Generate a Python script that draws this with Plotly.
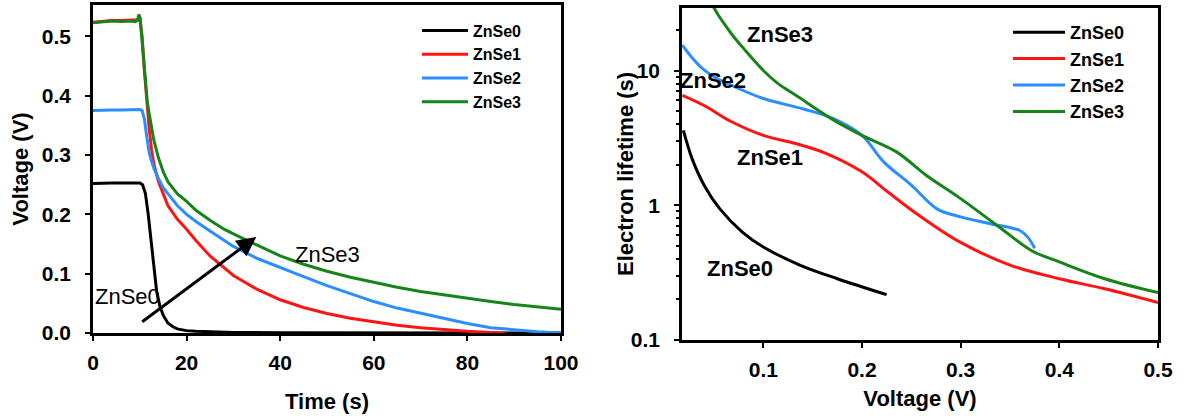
import math
import plotly.graph_objects as go

# ---------------- Left panel: voltage decay ----------------
t0 = [0, 2, 4, 6, 8, 10, 10.6, 11.2, 11.8, 12.4, 13, 13.6, 14.3, 15, 16, 17, 18, 20, 22, 25, 30, 40, 50, 60, 80, 100]
v0 = [0.252, 0.253, 0.253, 0.253, 0.253, 0.253, 0.25, 0.235, 0.2, 0.155, 0.105, 0.07, 0.045, 0.03, 0.017, 0.011,
      0.007, 0.004, 0.003, 0.002, 0.001, 0.0005, 0.0003, 0.0002, 0.0001, 0.0]

t1 = [0, 2, 4, 6, 8, 9.5, 10, 10.5, 11, 11.5, 12, 12.5, 13, 14, 15, 16, 18, 20, 22, 25, 30, 35, 40, 45, 50, 55,
      60, 65, 70, 75, 80, 85, 88]
v1 = [0.524, 0.526, 0.527, 0.527, 0.527, 0.528, 0.53, 0.5, 0.44, 0.385, 0.345, 0.31, 0.285, 0.255, 0.235, 0.215,
      0.192, 0.175, 0.156, 0.13, 0.097, 0.074, 0.056, 0.043, 0.033, 0.025, 0.019, 0.013, 0.009, 0.0055, 0.003,
      0.001, 0.0]

t2 = [0, 2, 4, 6, 8, 10, 10.5, 11, 11.5, 12, 12.5, 13, 14, 15, 16, 18, 20, 22, 25, 30, 35, 40, 45, 50, 55, 60,
      65, 70, 75, 80, 85, 90, 95, 100]
v2 = [0.375, 0.376, 0.376, 0.376, 0.376, 0.377, 0.375, 0.36, 0.33, 0.305, 0.29, 0.278, 0.26, 0.245, 0.235, 0.215,
      0.2, 0.188, 0.172, 0.146, 0.126, 0.11, 0.095, 0.08, 0.066, 0.053, 0.042, 0.033, 0.024, 0.016, 0.009, 0.005,
      0.002, 0.0]

t3 = [0, 2, 4, 6, 8, 9, 9.5, 9.8, 10.1, 10.4, 10.8, 11.2, 11.6, 12, 12.5, 13, 14, 15, 16, 18, 20, 22, 25, 28, 30,
      35, 40, 45, 50, 55, 60, 65, 70, 75, 80, 85, 90, 95, 100]
v3 = [0.523, 0.525, 0.526, 0.525, 0.526, 0.525, 0.527, 0.537, 0.53, 0.5, 0.46, 0.42, 0.39, 0.37, 0.345, 0.325,
      0.295, 0.272, 0.255, 0.235, 0.222, 0.207, 0.19, 0.175, 0.167, 0.148, 0.13, 0.116, 0.104, 0.094, 0.085,
      0.077, 0.07, 0.064, 0.058, 0.053, 0.048, 0.044, 0.04]

# ---------------- Right panel: electron lifetime ----------------
u0 = [0.019, 0.028, 0.04, 0.056, 0.079, 0.1, 0.137, 0.175, 0.225]
tau0 = [3.6, 2.2, 1.41, 0.94, 0.63, 0.49, 0.36, 0.285, 0.217]

u1 = [0.018, 0.04, 0.067, 0.1, 0.133, 0.164, 0.2, 0.226, 0.258, 0.3, 0.35, 0.4, 0.446, 0.5]
tau1 = [6.55, 5.5, 4.2, 3.3, 2.87, 2.42, 1.77, 1.26, 0.84, 0.53, 0.36, 0.285, 0.24, 0.19]

u2 = [0.018, 0.028, 0.04, 0.052, 0.067, 0.1, 0.14, 0.171, 0.2, 0.222, 0.25, 0.276, 0.3, 0.33, 0.36, 0.368, 0.375]
tau2 = [15.4, 12.4, 10.1, 8.8, 7.8, 6.2, 5.2, 4.4, 3.3, 2.1, 1.41, 0.94, 0.82, 0.73, 0.65, 0.58, 0.48]

u3 = [0.048, 0.055, 0.062, 0.07, 0.08, 0.09, 0.1, 0.115, 0.133, 0.171, 0.2, 0.235, 0.265, 0.3, 0.339, 0.372, 0.4,
      0.446, 0.5]
tau3 = [30.9, 25.4, 21.4, 17.8, 14.6, 12.0, 10.0, 8.0, 6.55, 4.3, 3.3, 2.49, 1.67, 1.12, 0.69, 0.46, 0.38, 0.285,
        0.225]

names = ["ZnSe0", "ZnSe1", "ZnSe2", "ZnSe3"]
colors = ["#000000", "#ff1414", "#2a8eff", "#17841a"]

x_ticks_left = [0, 20, 40, 60, 80, 100]
y_ticks_left = [0.0, 0.1, 0.2, 0.3, 0.4, 0.5]
x_ticks_right = [0.1, 0.2, 0.3, 0.4, 0.5]
y_ticks_right = [0.1, 1, 10]
y_minor_right = [0.2, 0.3, 0.4, 0.5, 0.6, 0.7, 0.8, 0.9, 2, 3, 4, 5, 6, 7, 8, 9, 20, 30]

# in-plot labels: (text, x, y)
left_labels = [("ZnSe0", 7.3, 0.061), ("ZnSe3", 50.2, 0.132)]
right_labels = [("ZnSe3", 0.117, 18.4), ("ZnSe2", 0.0493, 8.5), ("ZnSe1", 0.107, 2.27), ("ZnSe0", 0.0767, 0.34)]
arrow_tail = (10.2, 0.017)
arrow_head = (34.9, 0.162)

FONT = "Liberation Sans, Arial, sans-serif"

fig = go.Figure()
left_data = [(t0, v0), (t1, v1), (t2, v2), (t3, v3)]
right_data = [(u0, tau0), (u1, tau1), (u2, tau2), (u3, tau3)]

for (x, y), n, c in zip(left_data, names, colors):
    fig.add_trace(go.Scatter(x=x, y=y, mode="lines", name=n, line=dict(color=c, width=3),
                             xaxis="x", yaxis="y", legend="legend"))
for (x, y), n, c in zip(right_data, names, colors):
    fig.add_trace(go.Scatter(x=x, y=y, mode="lines", name=n, line=dict(color=c, width=3, shape="spline"),
                             xaxis="x2", yaxis="y2", legend="legend2"))

W, H = 1188, 419
axis_common = dict(showline=True, linecolor="black", linewidth=2.5, mirror=True, ticks="outside",
                   ticklen=5, tickwidth=2, tickcolor="black", showgrid=False, zeroline=False,
                   automargin=False,
                   tickfont=dict(family=FONT, size=21, color="black", weight=700),
                   title_font=dict(family=FONT, size=22, color="black", weight=700))

fig.update_layout(
    width=W, height=H, margin=dict(l=0, r=0, t=0, b=0),
    paper_bgcolor="white", plot_bgcolor="white",
    xaxis=dict(axis_common, domain=[93 / W, 561 / W], range=[0, 100], tickvals=x_ticks_left,
               title=dict(text="Time (s)", standoff=21), ticklabelstandoff=4),
    yaxis=dict(axis_common, domain=[(H - 333) / H, (H - 5) / H], range=[0, 0.553], tickvals=y_ticks_left,
               tickformat=".1f", title=dict(text="Voltage (V)", standoff=8), ticklabelstandoff=10),
    xaxis2=dict(axis_common, domain=[682 / W, 1158 / W], range=[0.0176, 0.5], tickvals=x_ticks_right,
                tickformat=".1f", anchor="y2",
                title=dict(text="Voltage (V)", standoff=11), ticklabelstandoff=4),
    yaxis2=dict(axis_common, domain=[(H - 340) / H, (H - 8) / H], type="log", range=[-1, 1.464],
                tickvals=y_ticks_right, ticktext=["0.1", "1", "10"], anchor="x2",
                minor=dict(tickvals=y_minor_right, ticks="outside", ticklen=3, tickcolor="black", tickwidth=1.5),
                ticklabelstandoff=10),
    legend=dict(x=417 / W, y=(H - 13.5) / H, xanchor="left", yanchor="top", bgcolor="rgba(0,0,0,0)",
                font=dict(family=FONT, size=16, color="black", weight=700), itemwidth=46,
                tracegroupgap=0),
    legend2=dict(x=1008 / W, y=(H - 14) / H, xanchor="left", yanchor="top", bgcolor="rgba(0,0,0,0)",
                 font=dict(family=FONT, size=18, color="black", weight=700), itemwidth=52,
                 tracegroupgap=0),
)

# right panel y-axis title, placed as rotated text beside the axis
fig.add_annotation(x=626 / W, y=(H - 174) / H, xref="paper", yref="paper", text="Electron lifetime (s)",
                   textangle=-90, showarrow=False, xanchor="center", yanchor="middle",
                   font=dict(family=FONT, size=22, color="black", weight=700))

# annotations on the left panel
for txt, xv, yv in left_labels:
    fig.add_annotation(x=xv, y=yv, xref="x", yref="y", text=txt, showarrow=False,
                       font=dict(family=FONT, size=22, color="black"))
fig.add_annotation(x=arrow_head[0], y=arrow_head[1], ax=arrow_tail[0], ay=arrow_tail[1],
                   xref="x", yref="y", axref="x", ayref="y",
                   text="", showarrow=True, arrowhead=2, arrowsize=1.3, arrowwidth=3, arrowcolor="black")

# annotations on the right panel (log axis: positions in log10 units)
for txt, xv, yv in right_labels:
    fig.add_annotation(x=xv, y=math.log10(yv), xref="x2", yref="y2", text=txt, showarrow=False,
                       font=dict(family=FONT, size=22, color="black", weight=700))

fig.write_html("out.html")
